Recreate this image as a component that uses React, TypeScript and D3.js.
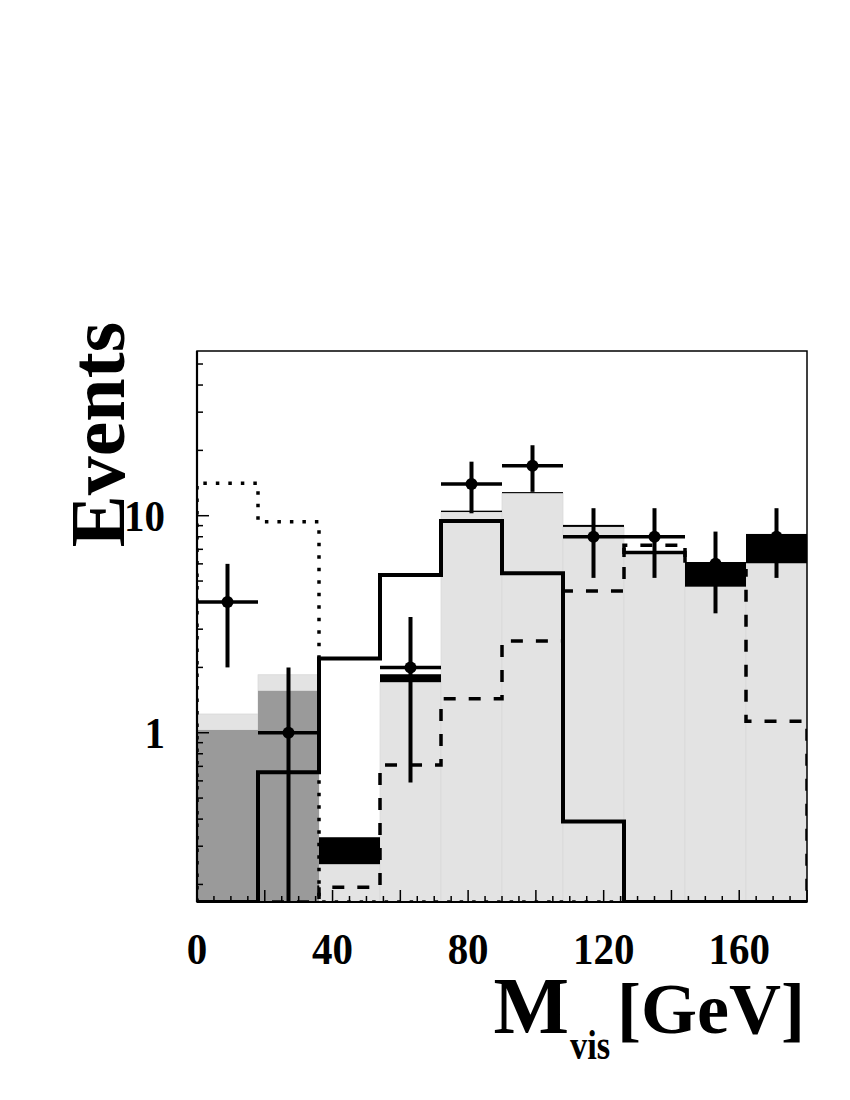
import React, { useEffect, useRef } from 'react'
import * as d3 from 'd3'

// bin edges in GeV
const binEdges = [0, 18, 36, 54, 72, 90, 108, 126, 144, 162, 180]

// observed events and their errors
const dataCounts = [4, 1, 0, 2, 14, 17, 8, 8, 6, 8]
const dataErrors = [2, 1, 0, 1.41, 3.74, 4.12, 2.83, 2.83, 2.45, 2.83]

// filled backgrounds
const bgLight = [1.22, 1.85, 0.248, 1.71, 10.4, 12.7, 8.88, 6.85, 4.71, 6.04]
const bgDark = [1.03, 1.56, 0, 0, 0, 0, 0, 0, 0, 0]

// black band on top of the light histogram
const bandLo = [0, 0, 0.248, 1.71, 10.4, 12.7, 8.88, 6.45, 4.71, 6.04]
const bandHi = [0, 0, 0.33, 1.86, 10.55, 12.85, 9.07, 7.1, 6.07, 8.24]
const bandStyle = ['none', 'none', 'fill', 'fill', 'fill', 'fill', 'fill', 'beam', 'fill', 'fill']

// line histograms
const solidHist = [0, 0.657, 2.2, 5.33, 9.45, 5.43, 0.39, 0, 0, 0]
const dashedHist = [0, 0, 0.194, 0.71, 1.435, 2.65, 4.5, 7.3, 5.58, 1.13]
const dottedHist = [14.1, 9.38, 0, 0, 0, 0, 0, 0, 0, 0]

const xLabels = [0, 40, 80, 120, 160]
const yLabels = [1, 10]

function MvisChart() {
    const ref = useRef<SVGSVGElement>(null)

    useEffect(() => {
        const svg = d3.select(ref.current)
        svg.selectAll('*').remove()

        const left = 197, right = 807, top = 351, bottom = 902
        const yMin = 0.166, yMax = 57.4
        const font = '"Liberation Serif", "Times New Roman", serif'

        const x = d3.scaleLinear().domain([0, 180]).range([left, right])
        const y = d3.scaleLog().domain([yMin, yMax]).range([bottom, top])
        const yc = (v: number) => y(Math.max(v, yMin))

        svg.append('defs').append('clipPath').attr('id', 'plotClip')
            .append('rect')
            .attr('x', left).attr('y', top)
            .attr('width', right - left).attr('height', bottom - top)

        const bins = d3.range(dataCounts.length)
        const plot = svg.append('g').attr('clip-path', 'url(#plotClip)')

        // light gray histogram
        plot.append('g')
            .selectAll('rect')
            .data(bins.filter(i => bgLight[i] > 0))
            .join('rect')
            .attr('x', i => x(binEdges[i]))
            .attr('width', i => x(binEdges[i + 1]) - x(binEdges[i]))
            .attr('y', i => yc(bgLight[i]))
            .attr('height', i => bottom - yc(bgLight[i]))
            .attr('fill', '#e3e3e3')
            .attr('stroke', '#d6d6d6')
            .attr('stroke-width', 0.7)

        // dark gray histogram
        plot.append('g')
            .selectAll('rect')
            .data(bins.filter(i => bgDark[i] > 0))
            .join('rect')
            .attr('x', i => x(binEdges[i]))
            .attr('width', i => x(binEdges[i + 1]) - x(binEdges[i]))
            .attr('y', i => yc(bgDark[i]))
            .attr('height', i => bottom - yc(bgDark[i]))
            .attr('fill', '#9a9a9a')

        // black bands
        plot.append('g')
            .selectAll('rect')
            .data(bins.filter(i => bandStyle[i] === 'fill'))
            .join('rect')
            .attr('x', i => x(binEdges[i]))
            .attr('width', i => x(binEdges[i + 1]) - x(binEdges[i]))
            .attr('y', i => yc(bandHi[i]))
            .attr('height', i => yc(bandLo[i]) - yc(bandHi[i]))
            .attr('fill', '#000')

        const beams = plot.append('g').attr('stroke', '#000').attr('stroke-width', 3.5)
        bins.filter(i => bandStyle[i] === 'beam').forEach(i => {
            const mid = (yc(bandLo[i]) + yc(bandHi[i])) / 2
            beams.append('line')
                .attr('x1', x(binEdges[i])).attr('x2', x(binEdges[i + 1]))
                .attr('y1', mid).attr('y2', mid)
            ;[binEdges[i], binEdges[i + 1]].forEach(e => {
                beams.append('line')
                    .attr('x1', x(e)).attr('x2', x(e))
                    .attr('y1', yc(bandHi[i])).attr('y2', yc(bandLo[i]))
            })
        })

        // step lines
        const stepPoints = (vals: number[]) => {
            const pts: [number, number][] = [[x(binEdges[0]), bottom]]
            vals.forEach((v, i) => {
                pts.push([x(binEdges[i]), yc(v)])
                pts.push([x(binEdges[i + 1]), yc(v)])
            })
            pts.push([x(binEdges[binEdges.length - 1]), bottom])
            return pts
        }
        const line = d3.line()

        plot.append('path')
            .attr('d', line(stepPoints(dottedHist)))
            .attr('fill', 'none')
            .attr('stroke', '#000')
            .attr('stroke-width', 3.5)
            .attr('stroke-dasharray', '3.5 9')

        plot.append('path')
            .attr('d', line(stepPoints(dashedHist)))
            .attr('fill', 'none')
            .attr('stroke', '#000')
            .attr('stroke-width', 3.5)
            .attr('stroke-dasharray', '12 13')

        plot.append('path')
            .attr('d', line(stepPoints(solidHist)))
            .attr('fill', 'none')
            .attr('stroke', '#000')
            .attr('stroke-width', 4)

        // data points
        const pts = plot.append('g')
        bins.filter(i => dataCounts[i] > 0).forEach(i => {
            const cx = x((binEdges[i] + binEdges[i + 1]) / 2)
            const cy = yc(dataCounts[i])
            pts.append('line')
                .attr('x1', x(binEdges[i])).attr('x2', x(binEdges[i + 1]))
                .attr('y1', cy).attr('y2', cy)
                .attr('stroke', '#000').attr('stroke-width', 3.5)
            pts.append('line')
                .attr('x1', cx).attr('x2', cx)
                .attr('y1', yc(dataCounts[i] + dataErrors[i]))
                .attr('y2', yc(dataCounts[i] - dataErrors[i]))
                .attr('stroke', '#000').attr('stroke-width', 4)
            pts.append('circle')
                .attr('cx', cx).attr('cy', cy).attr('r', 6)
                .attr('fill', '#000')
        })

        // frame
        svg.append('rect')
            .attr('x', left).attr('y', top)
            .attr('width', right - left).attr('height', bottom - top)
            .attr('fill', 'none').attr('stroke', '#000').attr('stroke-width', 1.5)
        svg.append('line')
            .attr('x1', left).attr('x2', left).attr('y1', top).attr('y2', bottom)
            .attr('stroke', '#000').attr('stroke-width', 2.2)
        svg.append('line')
            .attr('x1', left).attr('x2', right).attr('y1', bottom).attr('y2', bottom)
            .attr('stroke', '#000').attr('stroke-width', 2.2)

        // y ticks
        svg.append('g')
            .selectAll('line')
            .data(y.ticks())
            .join('line')
            .attr('x1', left)
            .attr('x2', d => left + (yLabels.includes(d) ? 12 : 6))
            .attr('y1', d => y(d)).attr('y2', d => y(d))
            .attr('stroke', '#000').attr('stroke-width', 1.5)

        // x ticks
        svg.append('g')
            .selectAll('line')
            .data(x.ticks(36))
            .join('line')
            .attr('x1', d => x(d)).attr('x2', d => x(d))
            .attr('y1', bottom)
            .attr('y2', d => bottom - (d % 20 === 0 ? 12 : 6))
            .attr('stroke', '#000').attr('stroke-width', 1.5)

        // tick labels (slightly tall glyphs, as in the original)
        svg.append('g')
            .selectAll('text')
            .data(xLabels)
            .join('text')
            .attr('transform', d => `translate(${x(d)},964) scale(1,1.1)`)
            .attr('text-anchor', 'middle')
            .attr('font-family', font)
            .attr('font-weight', 'bold')
            .attr('font-size', 41)
            .text(d => d)

        svg.append('g')
            .selectAll('text')
            .data(yLabels)
            .join('text')
            .attr('transform', d => `translate(165,${y(d) + 15}) scale(1,1.1)`)
            .attr('text-anchor', 'end')
            .attr('font-family', font)
            .attr('font-weight', 'bold')
            .attr('font-size', 41)
            .text(d => d)

        // axis titles
        svg.append('text')
            .attr('transform', 'translate(124,322) rotate(-90)')
            .attr('text-anchor', 'end')
            .attr('font-family', font)
            .attr('font-weight', 'bold')
            .attr('font-size', 78)
            .text('Events')

        const title = svg.append('g')
            .attr('font-family', font)
            .attr('font-weight', 'bold')
        title.append('text')
            .attr('x', 569).attr('y', 1033)
            .attr('text-anchor', 'end')
            .attr('font-size', 80)
            .text('M')
        title.append('text')
            .attr('transform', 'translate(570,1059) scale(0.82,1)')
            .attr('font-size', 42)
            .text('vis')
        title.append('text')
            .attr('x', 805).attr('y', 1033)
            .attr('text-anchor', 'end')
            .attr('font-size', 72)
            .text('[GeV]')
    }, [])

    return <svg ref={ref} width={850} height={1100} style={{ display: 'block', background: '#fff' }} />
}

export default function App() {
    return (
        <div style={{ position: 'absolute', left: 0, top: 0 }}>
            <MvisChart />
        </div>
    )
}
